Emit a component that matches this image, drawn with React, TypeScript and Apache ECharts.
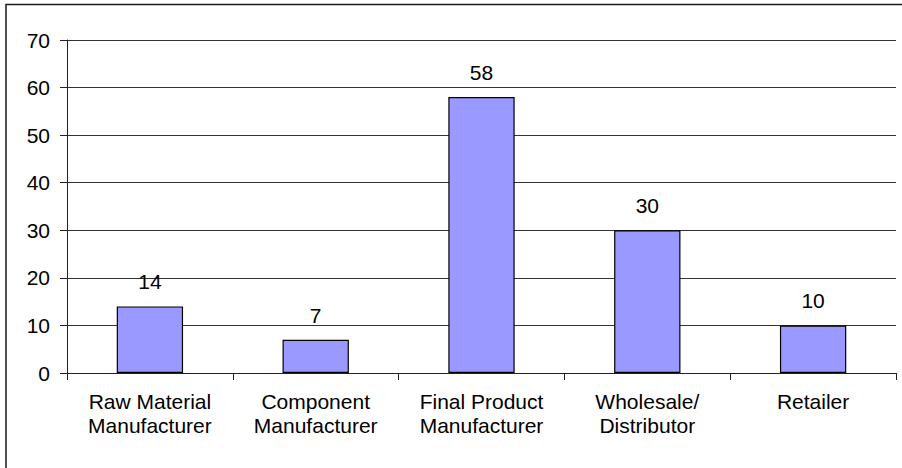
import React, { useEffect, useRef } from "react";
import * as echarts from "echarts";

// Supply-chain stages and their counts
const categories = [
  "Raw Material\nManufacturer",
  "Component\nManufacturer",
  "Final Product\nManufacturer",
  "Wholesale/\nDistributor",
  "Retailer",
];
const counts = [14, 7, 58, 30, 10];
const yTicks = { min: 0, max: 70, interval: 10 };

const FONT = "'Liberation Sans', Arial, sans-serif";

export default function App() {
  const ref = useRef<HTMLDivElement>(null);

  useEffect(() => {
    if (!ref.current) return;
    const chart = echarts.init(ref.current, null, { renderer: "svg" });
    chart.setOption({
      animation: false,
      backgroundColor: "#ffffff",
      textStyle: { fontFamily: FONT },
      graphic: [
        {
          type: "rect",
          shape: { x: 6, y: 4.5, width: 920, height: 490 },
          style: { fill: "none", stroke: "#1a1a1a", lineWidth: 1.5 },
          silent: true,
        },
      ],
      grid: { left: 67, right: 6, top: 40, bottom: 95, containLabel: false },
      xAxis: {
        type: "category",
        data: categories,
        axisLine: { lineStyle: { color: "#222", width: 1 } },
        axisTick: { show: true, length: 7, lineStyle: { color: "#222" } },
        axisLabel: {
          color: "#000",
          fontSize: 21,
          fontFamily: FONT,
          lineHeight: 24,
          margin: 16,
          interval: 0,
        },
      },
      yAxis: {
        type: "value",
        min: yTicks.min,
        max: yTicks.max,
        interval: yTicks.interval,
        axisLine: { show: true, lineStyle: { color: "#222", width: 1 } },
        axisTick: { show: true, length: 7, lineStyle: { color: "#222" } },
        axisLabel: {
          color: "#000",
          fontSize: 21,
          fontFamily: FONT,
          margin: 17,
        },
        splitLine: { show: true, lineStyle: { color: "#333", width: 1 } },
      },
      series: [
        {
          type: "bar",
          data: counts,
          barWidth: "40%",
          itemStyle: { color: "#9999ff", borderColor: "#000", borderWidth: 1.2 },
          label: {
            show: true,
            position: "top",
            distance: 14,
            color: "#000",
            fontSize: 21,
            fontFamily: FONT,
          },
        },
      ],
    });
    return () => chart.dispose();
  }, []);

  return (
    <div
      ref={ref}
      style={{ position: "fixed", left: 0, top: 0, width: 902, height: 468 }}
    />
  );
}
